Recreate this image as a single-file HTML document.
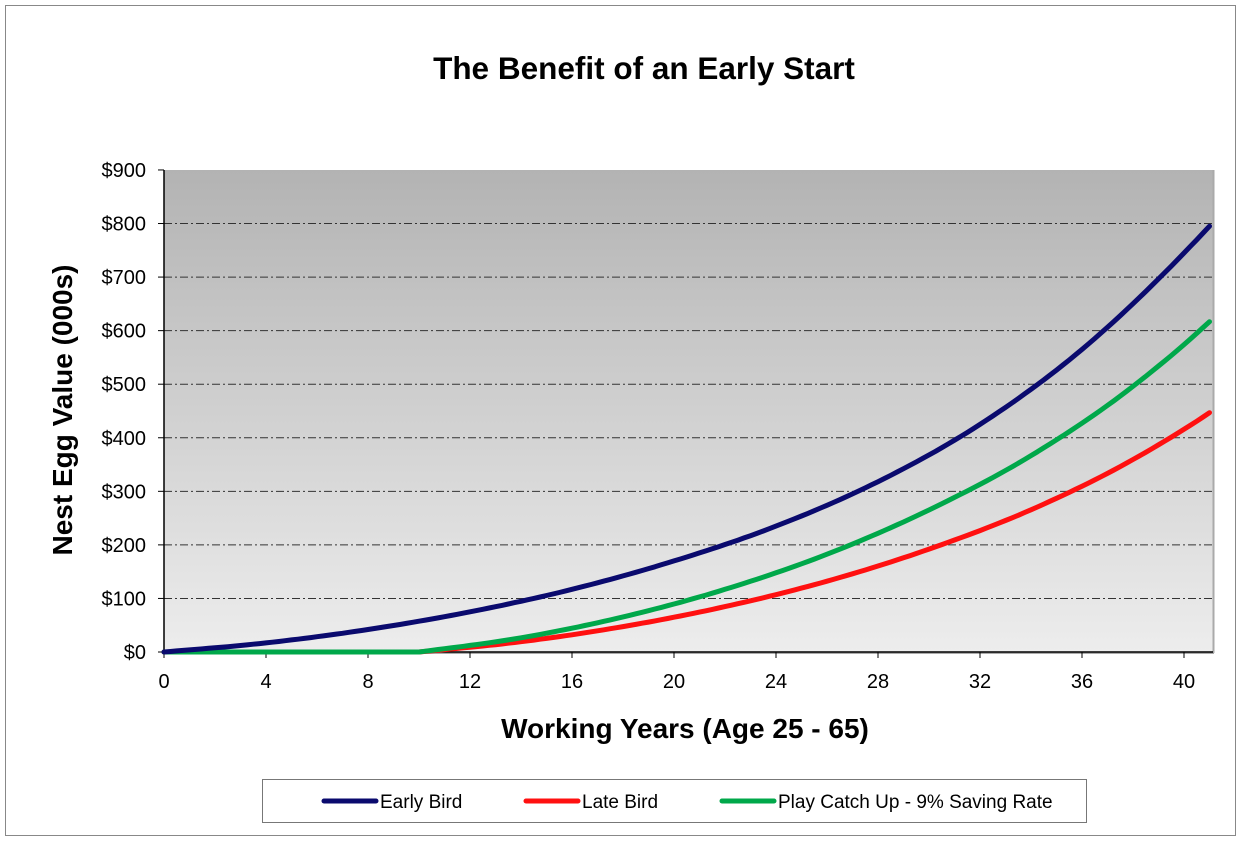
<!DOCTYPE html>
<html><head><meta charset="utf-8"><style>
html,body{margin:0;padding:0;background:#fff;}
svg{display:block;font-family:"Liberation Sans",Arial,sans-serif;}
</style></head><body>
<svg id="s" width="1246" height="844" viewBox="0 0 1246 844">
<defs><linearGradient id="g" x1="0" y1="0" x2="0" y2="1">
<stop offset="0" stop-color="#b3b3b3"/><stop offset="1" stop-color="#ededed"/></linearGradient></defs>
<rect x="5.5" y="5.5" width="1230" height="830" fill="#fff" stroke="#888" stroke-width="1"/>
<text x="644" y="79" text-anchor="middle" font-size="31.5" font-weight="bold">The Benefit of an Early Start</text>
<rect x="164" y="170" width="1049" height="482" fill="url(#g)"/>
<line x1="1213.5" y1="170" x2="1213.5" y2="653" stroke="#aaa" stroke-width="2"/>
<line x1="164" y1="653" x2="1214" y2="653" stroke="#aaa" stroke-width="2"/>
<g id="grid" stroke="#333" stroke-width="1" stroke-dasharray="8,3,2,3"></g>
<line x1="164" y1="170" x2="164" y2="652" stroke="#000" stroke-width="1.5"/>
<line x1="164" y1="652" x2="1213" y2="652" stroke="#000" stroke-width="1.5"/>
<g id="ylab" font-size="20" text-anchor="end"></g>
<g id="xlab" font-size="20" text-anchor="middle"></g>
<text transform="translate(72,410) rotate(-90)" text-anchor="middle" font-size="28" font-weight="bold">Nest Egg Value (000s)</text>
<text x="685" y="738" text-anchor="middle" font-size="28" font-weight="bold">Working Years (Age 25 - 65)</text>
<g id="series" fill="none" stroke-width="5" stroke-linejoin="round" stroke-linecap="round"></g>
<rect x="262.5" y="779.5" width="824" height="43" fill="#fff" stroke="#777"/>
<line x1="324" y1="801" x2="376" y2="801" stroke="#0a0a6e" stroke-width="5" stroke-linecap="round"/>
<text x="380" y="808" font-size="19">Early Bird</text>
<line x1="526" y1="801" x2="578" y2="801" stroke="#ff1010" stroke-width="5" stroke-linecap="round"/>
<text x="582" y="808" font-size="19">Late Bird</text>
<line x1="722" y1="801" x2="774" y2="801" stroke="#00a84a" stroke-width="5" stroke-linecap="round"/>
<text x="778" y="808" font-size="19">Play Catch Up - 9% Saving Rate</text>
</svg>
<script>
var NS="http://www.w3.org/2000/svg";
function X(t){return 164+t*25.5;}
function Y(v){return 652-v*0.5356;}
function el(p,tag,a,txt){var e=document.createElementNS(NS,tag);for(var k in a)e.setAttribute(k,a[k]);if(txt!=null)e.textContent=txt;document.getElementById(p).appendChild(e);}
for(var v=100;v<=800;v+=100){el("grid","line",{x1:164,x2:1213,y1:Y(v),y2:Y(v)});}
for(var v=0;v<=900;v+=100){el("ylab","text",{x:146,y:Y(v)+7},"$"+v);el("ylab","line",{x1:158,x2:164,y1:Y(v),y2:Y(v),stroke:"#000"});}
for(var t=0;t<=40;t+=4){el("xlab","text",{x:X(t),y:688},""+t);el("xlab","line",{x1:X(t),x2:X(t),y1:652,y2:658,stroke:"#000"});}
var E=[-15,0,17,42,75,117,170,235,318,425,565,745,960,1230,1560];
function early(t){
 if(t<=0)return 0;
 var i=Math.floor(t/4),f=t/4-i;
 var p0=E[i],p1=E[i+1],p2=E[i+2],p3=E[i+3];
 return 0.5*((2*p1)+(-p0+p2)*f+(2*p0-5*p1+4*p2-p3)*f*f+(-p0+3*p1-3*p2+p3)*f*f*f);
}
function pts(fn){var a=[];for(var k=0;k<=164;k++){var t=k/4;a.push(X(t).toFixed(1)+","+Y(Math.max(0,fn(t))).toFixed(1));}return a.join(" ");}
el("series","polyline",{points:pts(function(t){return t<=10?0:1.13*early(t-10);}),stroke:"#ff1010"});
el("series","polyline",{points:pts(function(t){return t<=10?0:1.56*early(t-10);}),stroke:"#00a84a"});
el("series","polyline",{points:pts(early),stroke:"#0a0a6e"});
</script>
</body></html>
